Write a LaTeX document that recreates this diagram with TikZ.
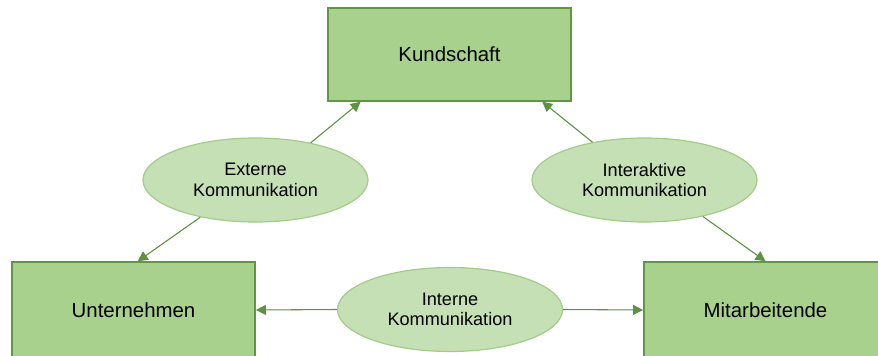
\documentclass[tikz,border=0pt]{standalone}
\usepackage{fontspec}
\setmainfont{Liberation Sans}
\usetikzlibrary{shapes.geometric,arrows.meta}
\definecolor{boxfill}{HTML}{A9D18E}
\definecolor{boxline}{HTML}{5F9742}
\definecolor{ellfill}{HTML}{C5E0B4}
\definecolor{ellline}{HTML}{A3CC88}
\definecolor{arrowcol}{HTML}{5E9142}
\tikzset{
  greenbox/.style={rectangle, draw=boxline, fill=boxfill, line width=1.1pt,
    minimum width=182.5pt, inner sep=0pt, font=\fontsize{15.3}{18}\selectfont},
  commell/.style={ellipse, draw=ellline, fill=ellfill, line width=0.9pt,
    minimum width=168.75pt, minimum height=63pt, inner sep=0pt, align=center,
    font=\fontsize{13.6}{15.5}\selectfont},
  conn/.style={draw=arrowcol, line width=0.8pt, -{Triangle[length=7.5pt,width=7.5pt]}}
}
\begin{document}
\begin{tikzpicture}[x=0.75pt,y=-0.75pt]
\useasboundingbox (0,0) rectangle (878,356);
\clip (0,0) rectangle (878,356);
\fill[white] (0,0) rectangle (878,356);
\node[greenbox, minimum height=69.75pt] (kund) at (449.5,54.5) {Kundschaft};
\node[greenbox, minimum height=72pt] (unt) at (133.5,310) {Unternehmen};
\node[greenbox, minimum height=72pt] (mit) at (765.5,310) {Mitarbeitende};
\node[commell] (ext) at (255.5,180) {Externe\\Kommunikation};
\node[commell] (inter) at (644.5,180) {Interaktive\\Kommunikation};
\node[commell] (intern) at (450,309.5) {Interne\\Kommunikation};
\draw[conn] (ext.34) -- (kund.208);
\draw[conn] (ext.214) -- (unt.85);
\draw[conn] (inter.144) -- (kund.333);
\draw[conn] (inter.328) -- (mit.north);
\draw[conn] (intern.west) -- (unt.east);
\draw[conn] (intern.east) -- (mit.west);
\end{tikzpicture}
\end{document}
